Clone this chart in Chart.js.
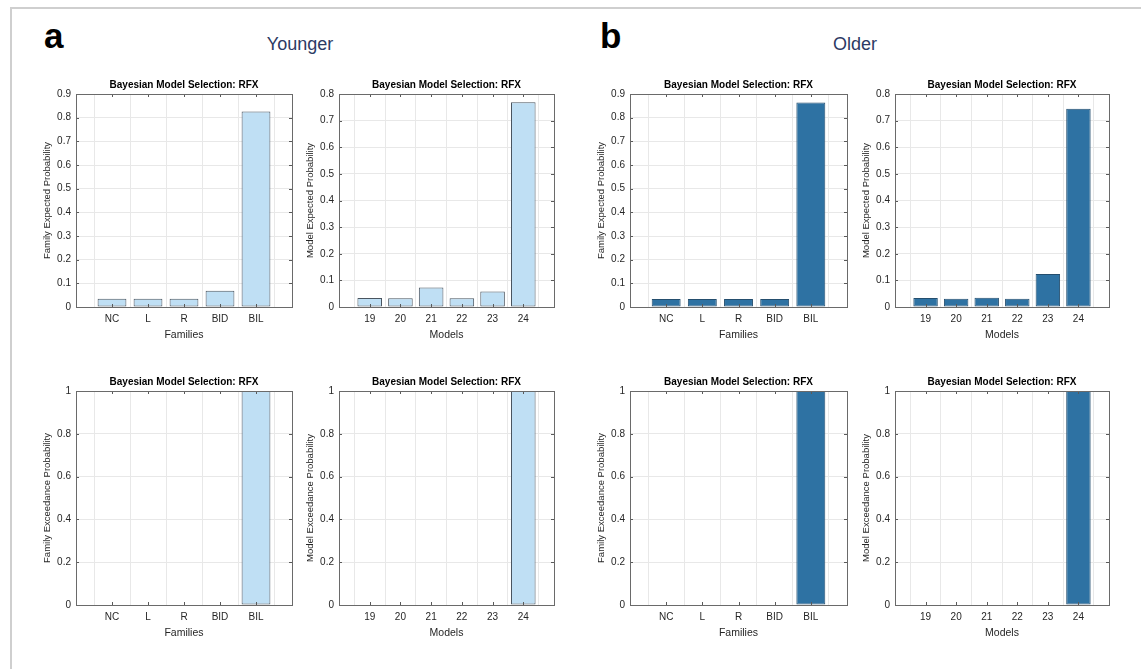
<!DOCTYPE html>
<html>
<head>
<meta charset="utf-8">
<script src="https://cdn.jsdelivr.net/npm/chart.js@4.4.1/dist/chart.umd.min.js"></script>
<style>
  html, body { margin: 0; padding: 0; background: #fff; }
  #page { position: relative; width: 1146px; height: 669px; overflow: hidden; }
  .frame-top { position: absolute; left: 10px; top: 7px; width: 1131px; height: 2px; background: #cfcfcf; }
  .frame-left { position: absolute; left: 10px; top: 7px; width: 2px; height: 662px; background: #cfcfcf; }
  .panel { position: absolute; }
  .letter { position: absolute; font-family: 'Liberation Sans', Arial, sans-serif; font-weight: bold; font-size: 35px; color: #000; line-height: 1; }
  .group { position: absolute; font-family: 'Liberation Sans', Arial, sans-serif; font-size: 18px; color: #2c3a64; line-height: 1; transform: translateX(-50%); }
</style>
</head>
<body>
<div id="page">
  <div class="frame-top"></div>
  <div class="frame-left"></div>
  <div class="letter" style="left:44px; top:18px;">a</div>
  <div class="letter" style="left:600px; top:18px;">b</div>
  <div class="group" style="left:300px; top:35px;">Younger</div>
  <div class="group" style="left:855px; top:35px;">Older</div>
</div>
<script>
const families = ['NC', 'L', 'R', 'BID', 'BIL'];
const models = ['19', '20', '21', '22', '23', '24'];

const youngerFamilyExp = [0.035, 0.035, 0.035, 0.069, 0.826];
const youngerModelExp = [0.034, 0.033, 0.073, 0.033, 0.058, 0.769];
const youngerFamilyXp = [0, 0, 0, 0, 1];
const youngerModelXp = [0, 0, 0, 0, 0, 1];

const olderFamilyExp = [0.034, 0.034, 0.034, 0.034, 0.864];
const olderModelExp = [0.034, 0.031, 0.035, 0.031, 0.124, 0.745];
const olderFamilyXp = [0, 0, 0, 0, 1];
const olderModelXp = [0, 0, 0, 0, 0, 1];

const LIGHT = '#bfdff4';
const LIGHT_EDGE = '#4a5560';
const DARK = '#2e72a3';
const DARK_EDGE = '#244e6e';

Chart.defaults.font.family = "'Liberation Sans', Arial, sans-serif";
Chart.defaults.color = '#262626';

// matlab-like box with inward ticks on all four sides
const boxPlugin = {
    id: 'matlabBox',
    afterDraw(chart) {
        const { ctx, chartArea: a, scales } = chart;
        ctx.save();
        ctx.strokeStyle = '#5a5a5a';
        ctx.lineWidth = 1;
        ctx.beginPath();
        const tl = 3;
        scales.x.ticks.forEach(t => {
            const px = Math.round(scales.x.getPixelForValue(t.value)) + 0.5;
            ctx.moveTo(px, a.bottom); ctx.lineTo(px, a.bottom - tl);
            ctx.moveTo(px, a.top); ctx.lineTo(px, a.top + tl);
        });
        scales.y.ticks.forEach(t => {
            const py = Math.round(scales.y.getPixelForValue(t.value)) + 0.5;
            ctx.moveTo(a.left, py); ctx.lineTo(a.left + tl, py);
            ctx.moveTo(a.right, py); ctx.lineTo(a.right - tl, py);
        });
        ctx.stroke();
        ctx.strokeStyle = '#6a6a6a';
        ctx.strokeRect(Math.round(a.left) + 0.5, Math.round(a.top) + 0.5,
            Math.round(a.right - a.left), Math.round(a.bottom - a.top));
        ctx.restore();
    }
};

function makePanel(cfg) {
    const padL = 60, padT = 30, padB = 40, padR = 6;
    const w = cfg.plot[2] - cfg.plot[0];
    const h = cfg.plot[3] - cfg.plot[1];
    const div = document.createElement('div');
    div.className = 'panel';
    div.style.left = (cfg.plot[0] - padL) + 'px';
    div.style.top = (cfg.plot[1] - padT) + 'px';
    div.style.width = (padL + w + padR) + 'px';
    div.style.height = (padT + h + padB) + 'px';
    const canvas = document.createElement('canvas');
    div.appendChild(canvas);
    document.getElementById('page').appendChild(div);

    const first = cfg.first;
    const points = cfg.values.map((v, i) => ({ x: first + i, y: v }));
    const nCat = cfg.labels.length;

    new Chart(canvas, {
        type: 'bar',
        data: {
            datasets: [{
                data: points,
                backgroundColor: cfg.color,
                borderColor: cfg.edge,
                borderWidth: 1,
                borderSkipped: false,
                barPercentage: 0.8,
                categoryPercentage: 1
            }]
        },
        plugins: [boxPlugin],
        options: {
            responsive: true,
            maintainAspectRatio: false,
            animation: false,
            layout: { padding: { left: 0, right: padR, top: 0, bottom: 0 } },
            plugins: {
                legend: { display: false },
                tooltip: { enabled: false },
                title: {
                    display: true,
                    fullSize: false,
                    text: 'Bayesian Model Selection: RFX',
                    color: '#000',
                    font: { size: 10, weight: 'bold', lineHeight: 1.2 },
                    padding: { top: 15, bottom: padT - 15 - 12 }
                }
            },
            scales: {
                x: {
                    type: 'linear',
                    offset: false,
                    min: first - 1,
                    max: first + nCat,
                    afterBuildTicks: s => {
                        s.ticks = cfg.labels.map((_, i) => ({ value: first + i }));
                    },
                    afterFit: s => { s.height = padB; },
                    grid: { color: '#e8e8e8', drawTicks: false },
                    border: { display: false },
                    ticks: {
                        padding: 6,
                        maxRotation: 0,
                        autoSkip: false,
                        font: { size: 10 },
                        callback: v => cfg.labels[v - first]
                    },
                    title: {
                        display: true,
                        text: cfg.xTitle,
                        font: { size: 10.5 },
                        padding: { top: 0, bottom: 6 }
                    }
                },
                y: {
                    min: 0,
                    max: cfg.yMax,
                    afterFit: s => { s.width = padL; },
                    grid: { color: '#e8e8e8', drawTicks: false },
                    border: { display: false },
                    ticks: {
                        stepSize: cfg.yStep,
                        padding: 5,
                        font: { size: 10 },
                        callback: v => String(+v.toFixed(2))
                    },
                    title: {
                        display: true,
                        text: cfg.yTitle,
                        font: { size: 9.5 },
                        padding: { top: 26, bottom: 0 }
                    }
                }
            }
        }
    });
}

const row1 = [94, 307];
const row2 = [391, 605];
const col1 = [76, 292], col2 = [339, 554], col3 = [630, 847], col4 = [895, 1109];

const panels = [
    { plot: [col1[0], row1[0], col1[1], row1[1]], labels: families, first: 1, values: youngerFamilyExp, yMax: 0.9, yStep: 0.1, xTitle: 'Families', yTitle: 'Family Expected Probability', color: LIGHT, edge: LIGHT_EDGE },
    { plot: [col2[0], row1[0], col2[1], row1[1]], labels: models, first: 19, values: youngerModelExp, yMax: 0.8, yStep: 0.1, xTitle: 'Models', yTitle: 'Model Expected Probability', color: LIGHT, edge: LIGHT_EDGE },
    { plot: [col3[0], row1[0], col3[1], row1[1]], labels: families, first: 1, values: olderFamilyExp, yMax: 0.9, yStep: 0.1, xTitle: 'Families', yTitle: 'Family Expected Probability', color: DARK, edge: DARK_EDGE },
    { plot: [col4[0], row1[0], col4[1], row1[1]], labels: models, first: 19, values: olderModelExp, yMax: 0.8, yStep: 0.1, xTitle: 'Models', yTitle: 'Model Expected Probability', color: DARK, edge: DARK_EDGE },
    { plot: [col1[0], row2[0], col1[1], row2[1]], labels: families, first: 1, values: youngerFamilyXp, yMax: 1, yStep: 0.2, xTitle: 'Families', yTitle: 'Family Exceedance Probability', color: LIGHT, edge: LIGHT_EDGE },
    { plot: [col2[0], row2[0], col2[1], row2[1]], labels: models, first: 19, values: youngerModelXp, yMax: 1, yStep: 0.2, xTitle: 'Models', yTitle: 'Model Exceedance Probability', color: LIGHT, edge: LIGHT_EDGE },
    { plot: [col3[0], row2[0], col3[1], row2[1]], labels: families, first: 1, values: olderFamilyXp, yMax: 1, yStep: 0.2, xTitle: 'Families', yTitle: 'Family Exceedance Probability', color: DARK, edge: DARK_EDGE },
    { plot: [col4[0], row2[0], col4[1], row2[1]], labels: models, first: 19, values: olderModelXp, yMax: 1, yStep: 0.2, xTitle: 'Models', yTitle: 'Model Exceedance Probability', color: DARK, edge: DARK_EDGE }
];

panels.forEach(makePanel);
</script>
</body>
</html>
